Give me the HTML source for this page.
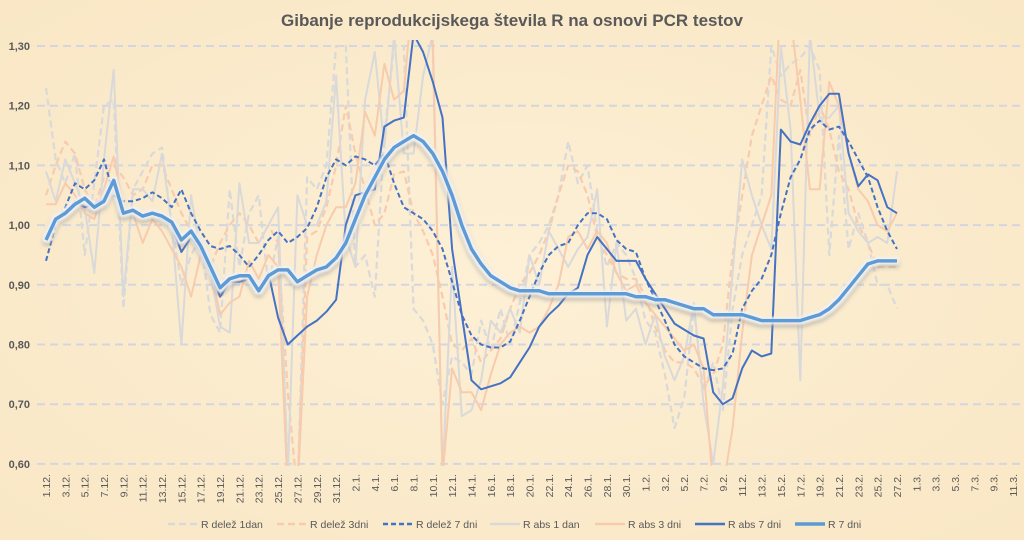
<!DOCTYPE html>
<html><head><meta charset="utf-8"><style>
html,body{margin:0;padding:0;}
body{width:1024px;height:540px;overflow:hidden;background:#fbedd0;font-family:"Liberation Sans",sans-serif;}
</style></head><body>
<svg id="chart" width="1024" height="540" xmlns="http://www.w3.org/2000/svg" style="display:block">
<defs>
<radialGradient id="bg" cx="50%" cy="50%" r="70%"><stop offset="0" stop-color="#fdf0d6"/><stop offset="1" stop-color="#f9e7c5"/></radialGradient>
<clipPath id="plot"><rect x="37" y="40" width="985" height="426"/></clipPath>
<filter id="glow" x="-5%" y="-20%" width="110%" height="140%">
<feMorphology in="SourceAlpha" operator="dilate" radius="2" result="d"/>
<feGaussianBlur in="d" stdDeviation="2" result="b"/>
<feOffset in="b" dx="0" dy="3" result="o"/>
<feFlood flood-color="#8a8a8a" flood-opacity="0.5"/><feComposite in2="o" operator="in" result="sh"/>
<feGaussianBlur in="d" stdDeviation="1" result="db"/>
<feFlood flood-color="#f4f4f4" flood-opacity="0.9"/><feComposite in2="db" operator="in" result="wh"/>
<feMerge><feMergeNode in="sh"/><feMergeNode in="wh"/><feMergeNode in="SourceGraphic"/></feMerge>
</filter>
</defs>
<rect width="1024" height="540" fill="url(#bg)"/>
<text x="512" y="26" text-anchor="middle" font-size="17" font-weight="bold" fill="#595959">Gibanje reprodukcijskega števila R na osnovi PCR testov</text>
<g id="grid"></g><g id="ylab"></g><g id="xlab"></g>
<g id="series" clip-path="url(#plot)"></g>
<g id="legend"></g>
</svg>
<script>
const yTicks=[0.6,0.7,0.8,0.9,1.0,1.1,1.2,1.3];
const dateStart=0, dateEnd=100;
const delez1=[1.23,1.11,1.07,1.12,0.95,1.07,1.2,1.21,0.86,1.06,1.09,1.12,1.13,1.0,0.9,0.95,0.98,0.85,0.82,1.06,0.93,1.02,1.05,0.9,0.98,0.6,0.55,1.08,1.06,1.1,1.3,1.3,0.93,0.95,0.88,1.15,1.3,1.3,0.86,0.84,0.8,0.7,0.78,0.77,0.75,0.84,0.79,0.86,0.8,0.87,0.95,0.97,1.0,1.05,1.14,1.07,1.1,0.99,0.93,0.97,0.95,0.91,0.84,0.82,0.75,0.66,0.71,0.86,0.72,0.77,0.69,0.86,0.95,1.0,1.05,1.3,1.25,1.27,1.28,1.3,1.26,0.95,1.15,0.96,1.02,0.97,0.9,0.9,0.86];
const delez3=[1.05,1.1,1.14,1.12,1.06,1.03,1.08,1.1,1.08,1.05,1.06,1.1,1.1,1.06,1.02,0.99,0.96,0.93,0.97,1.0,1.02,1.0,0.97,1.0,0.97,0.72,0.55,0.98,0.99,1.03,1.1,1.2,1.12,1.06,1.0,1.02,1.085,1.09,1.02,0.99,0.95,0.88,0.8,0.79,0.81,0.77,0.79,0.81,0.86,0.9,0.92,0.95,0.99,1.05,1.1,1.09,1.05,0.98,0.95,0.92,0.91,0.91,0.88,0.83,0.79,0.77,0.77,0.76,0.73,0.75,0.8,0.95,1.05,1.15,1.2,1.25,1.21,1.2,1.26,1.15,1.2,1.16,1.09,1.06,1.0,0.97,0.93,0.93,0.93];
const delez7=[0.94,1.0,1.03,1.07,1.06,1.075,1.11,1.05,1.04,1.04,1.045,1.055,1.045,1.03,1.06,1.02,0.99,0.965,0.96,0.965,0.95,0.93,0.95,0.975,0.99,0.97,0.98,0.995,1.03,1.08,1.11,1.1,1.115,1.11,1.1,1.12,1.07,1.03,1.02,1.01,0.99,0.96,0.905,0.85,0.815,0.8,0.795,0.795,0.805,0.84,0.88,0.92,0.95,0.965,0.97,1.0,1.02,1.02,1.01,0.975,0.96,0.955,0.91,0.875,0.84,0.8,0.78,0.77,0.76,0.757,0.76,0.785,0.86,0.89,0.91,0.95,1.02,1.08,1.11,1.16,1.175,1.16,1.165,1.14,1.11,1.08,1.03,0.99,0.96];
const abs1=[1.09,1.04,1.11,1.07,1.03,0.92,1.11,1.26,0.88,1.06,1.06,1.04,1.12,1.0,0.8,1.05,0.95,0.92,0.83,0.82,1.07,0.97,0.97,1.0,1.03,0.58,1.05,1.0,1.0,1.04,1.25,0.98,0.93,1.21,1.29,1.13,1.32,1.12,1.12,1.25,1.32,0.58,0.93,0.68,0.69,0.74,0.84,0.82,0.86,0.82,0.95,0.9,0.99,0.96,0.93,0.96,0.98,1.06,0.83,0.97,0.84,0.86,0.8,0.85,0.78,0.74,0.78,0.87,0.7,0.6,0.73,0.92,1.11,1.05,1.0,0.96,1.3,1.16,0.74,1.32,1.18,1.18,1.2,1.02,0.99,0.97,0.98,0.97,1.09];
const abs3=[1.035,1.035,1.07,1.05,1.02,1.01,1.06,1.115,1.03,1.02,0.97,1.01,0.99,0.96,0.93,0.88,0.95,0.93,0.85,0.87,0.88,0.94,0.91,0.95,0.93,0.55,0.55,0.88,0.95,1.0,1.03,1.03,1.07,1.19,1.15,1.27,1.21,1.225,1.4,1.4,1.3,0.58,0.76,0.72,0.72,0.69,0.75,0.8,0.82,0.83,0.82,0.83,0.86,0.9,0.98,0.99,0.96,0.99,0.97,0.92,0.89,0.9,0.87,0.85,0.83,0.81,0.79,0.8,0.76,0.56,0.56,0.66,0.82,0.95,1.0,1.05,1.4,1.35,1.21,1.06,1.06,1.24,1.2,1.12,1.06,1.04,1.0,0.99,1.02];
const abs7=[0.98,1.01,1.02,1.04,1.03,1.035,1.045,1.075,1.02,1.025,1.015,1.02,1.01,1.0,0.955,0.98,0.955,0.92,0.88,0.905,0.905,0.91,0.89,0.92,0.845,0.8,0.815,0.83,0.84,0.855,0.875,1.0,1.05,1.055,1.06,1.165,1.175,1.18,1.32,1.29,1.24,1.18,0.96,0.85,0.74,0.725,0.73,0.735,0.745,0.77,0.795,0.83,0.85,0.865,0.885,0.895,0.95,0.98,0.96,0.94,0.94,0.94,0.91,0.885,0.86,0.835,0.825,0.815,0.81,0.72,0.7,0.71,0.76,0.79,0.78,0.785,1.16,1.14,1.135,1.17,1.2,1.22,1.22,1.12,1.065,1.085,1.075,1.03,1.02];
const r7=[0.975,1.01,1.02,1.035,1.045,1.03,1.04,1.075,1.02,1.025,1.015,1.02,1.015,1.005,0.975,0.99,0.965,0.93,0.895,0.91,0.915,0.915,0.89,0.915,0.925,0.925,0.905,0.915,0.925,0.93,0.945,0.97,1.01,1.05,1.08,1.11,1.13,1.14,1.15,1.14,1.12,1.09,1.05,1.0,0.96,0.935,0.915,0.905,0.895,0.89,0.89,0.89,0.885,0.885,0.885,0.885,0.885,0.885,0.885,0.885,0.885,0.88,0.88,0.875,0.875,0.87,0.865,0.86,0.86,0.85,0.85,0.85,0.85,0.845,0.84,0.84,0.84,0.84,0.84,0.845,0.85,0.86,0.875,0.895,0.915,0.935,0.94,0.94,0.94];

const NS="http://www.w3.org/2000/svg";
const X0=46, DX=9.67, Y13=46, YPER=597;
function xs(i){return X0+i*DX;}
function ys(v){return Y13+(1.3-v)*YPER;}
function mk(tag,attrs,parent){const e=document.createElementNS(NS,tag);for(const k in attrs)e.setAttribute(k,attrs[k]);parent.appendChild(e);return e;}
const grid=document.getElementById('grid'),ylab=document.getElementById('ylab'),xlab=document.getElementById('xlab'),ser=document.getElementById('series'),leg=document.getElementById('legend');
yTicks.forEach(v=>{
  const l=mk('line',{x1:37,x2:1022,y1:ys(v),y2:ys(v),stroke:'#d3d6e0','stroke-width':2,'stroke-dasharray':'8,5'},grid);
  
  
  const t=mk('text',{x:30,y:ys(v)+4,'text-anchor':'end','font-size':11,'font-weight':'bold',fill:'#595959'},ylab);
  
  
  t.textContent=v.toFixed(2).replace('.',',');
});
function dateLabel(d){const m=[[31,12],[31,1],[28,2],[31,3]];let day=d;for(const [n,mo] of m){if(day<n)return (day+1)+'.'+mo+'.';day-=n;}return '';}
for(let d=dateStart;d<=dateEnd;d+=2){
  const x=xs(d)+4;
  const t=mk('text',{x:x,y:474,'text-anchor':'end','font-size':10.5,fill:'#595959',transform:'rotate(-90 '+x+' 474)'},xlab);
  
  
  t.textContent=dateLabel(d);
}
function path(arr){return arr.map((v,i)=>(i?'L':'M')+xs(i).toFixed(1)+','+ys(v).toFixed(1)).join('');}
const specs=[
 ['series-r-delez-1dan',delez1,'#d9d9d9',2.2,'7,4','R delež 1dan',168],
 ['series-r-delez-3dni',delez3,'#f8cbad',2.2,'7,4','R delež 3dni',277],
 ['series-r-abs-1dan',abs1,'#d9d9d9',2,'','R abs 1 dan',490],
 ['series-r-abs-3dni',abs3,'#f8cbad',2,'','R abs 3 dni',595],
 ['series-r-delez-7dni',delez7,'#4472c4',2,'5,3','R delež 7 dni',383],
 ['series-r-abs-7dni',abs7,'#4472c4',2,'','R abs 7 dni',695],
 ['series-r-7dni',r7,'#5b9bd5',3.5,'','R 7 dni',795]
];
specs.forEach(s=>{
  const a={d:path(s[1]),fill:'none',stroke:s[2],'stroke-width':s[3],'stroke-linejoin':'round'};
  if(s[4])a['stroke-dasharray']=s[4];
  if(s[0]==='series-r-7dni')a.filter='url(#glow)';
  const p=mk('path',a,ser);
  
  
  const g=mk('g',{},leg);
  
  
  const la={x1:s[6],x2:s[6]+30,y1:524,y2:524,stroke:s[2],'stroke-width':s[0]==='series-r-7dni'?3.5:2.5};
  if(s[4])la['stroke-dasharray']=s[4];
  mk('line',la,g);
  const t=mk('text',{x:s[6]+33,y:528,'font-size':10.5,fill:'#595959'},g);
  t.textContent=s[5];
});
</script>
</body></html>
